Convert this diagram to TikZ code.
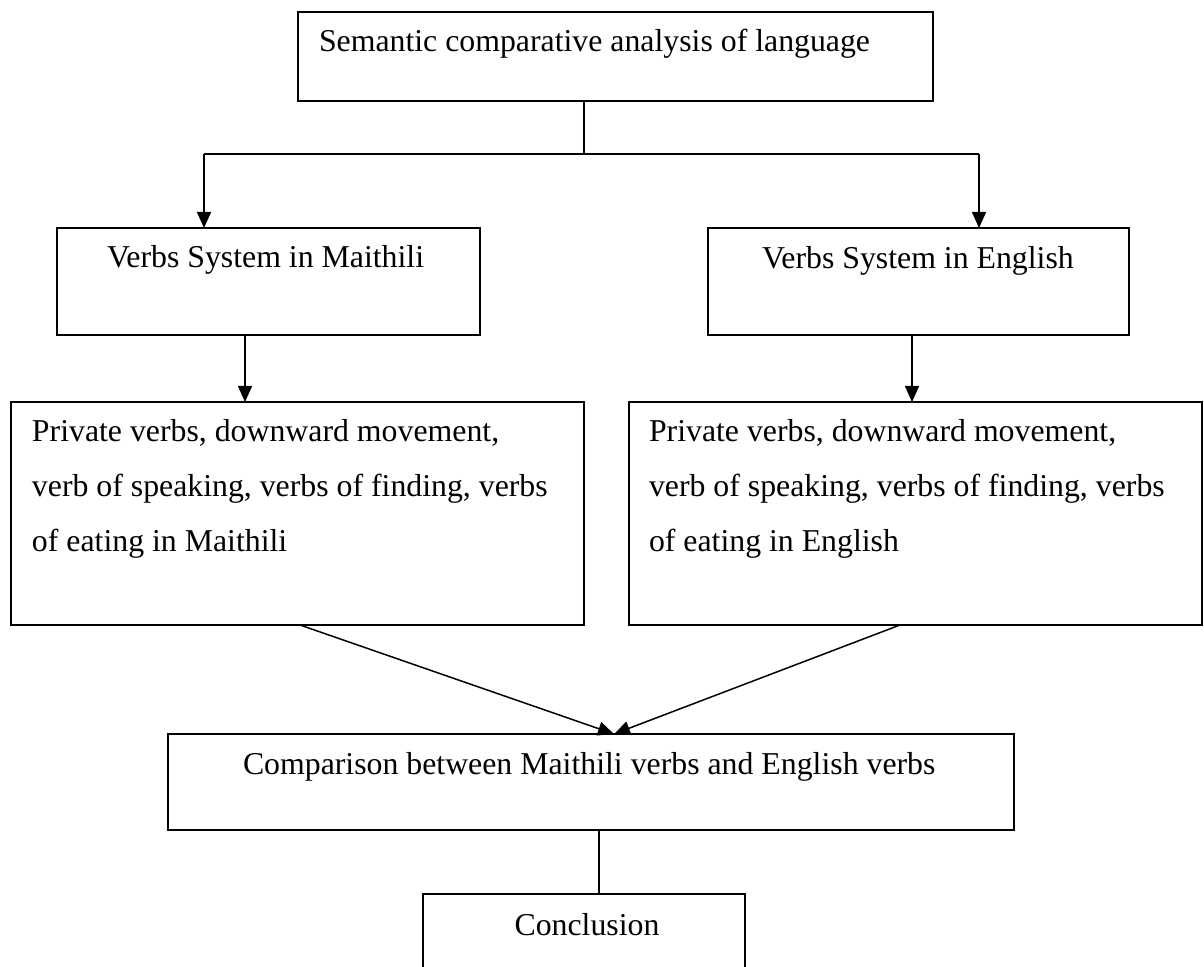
\documentclass[tikz,border=0pt]{standalone}
\usepackage{fontspec}
\setmainfont{Liberation Serif}
\usetikzlibrary{arrows.meta}
\begin{document}
\begin{tikzpicture}[x=0.5pt,y=-0.5pt,
  box/.style={draw, line width=0.75pt, inner sep=0pt, outer sep=0pt, anchor=north west},
  txt/.style={inner sep=0pt, outer sep=0pt, anchor=base west, font=\fontsize{15.9}{27.5}\selectfont},
  arr/.style={line width=0.75pt, -{Triangle[length=8pt,width=7pt]}},
  ln/.style={line width=0.75pt}]
\useasboundingbox (0,0) rectangle (1204,967);

% boxes
\node[box, minimum width=317.5pt, minimum height=44.5pt] (top) at (298,12) {};
\node[box, minimum width=211.5pt, minimum height=53.5pt] (vm) at (57,228) {};
\node[box, minimum width=210.5pt, minimum height=53.5pt] (ve) at (708,228) {};
\node[box, minimum width=286.5pt, minimum height=111.5pt] (pm) at (11,402) {};
\node[box, minimum width=286.5pt, minimum height=111.5pt] (pe) at (629,402) {};
\node[box, minimum width=423pt, minimum height=48pt] (comp) at (168,734) {};
\node[inner sep=0pt, outer sep=0pt, anchor=north west, minimum width=161pt, minimum height=40pt] (concl) at (423,894) {};
\draw[ln] (concl.south west) -- (concl.north west) -- (concl.north east) -- (concl.south east);

% texts
\node[txt] (ttop) at (319,52) {Semantic comparative analysis of language};
\node[txt] (tvm) at (107,268) {Verbs System in Maithili};
\node[txt] (tve) at (762,269) {Verbs System in English};
\node[txt, text width=280pt, align=flush left] (tpm) at (32,442) {Private verbs, downward movement,\\verb of speaking, verbs of finding, verbs\\of eating in Maithili};
\node[txt, text width=280pt, align=flush left] (tpe) at (649,442) {Private verbs, downward movement,\\verb of speaking, verbs of finding, verbs\\of eating in English};
\node[txt] (tcomp) at (243,774) {Comparison between Maithili verbs and English verbs};
\node[txt, anchor=base] (tconcl) at (587,935) {Conclusion};

% connectors
\coordinate (split) at (584,154);
\coordinate (jl) at (204,154);
\coordinate (jr) at (979,154);
\draw[ln] (top.south -| split) -- (split);
\draw[ln] (jl) -- (jr);
\draw[arr] (jl) -- (jl |- vm.north);
\draw[arr] (jr) -- (jr |- ve.north);
\draw[arr] ([xshift=94pt]vm.south west) -- ([xshift=94pt]vm.south west |- pm.north);
\draw[arr] ([xshift=102pt]ve.south west) -- ([xshift=102pt]ve.south west |- pe.north);
\coordinate (tip) at ([xshift=223pt]comp.north west);
\draw[arr] ([xshift=144.5pt]pm.south west) -- (tip);
\draw[arr] ([xshift=135.5pt]pe.south west) -- (tip);
\draw[ln] ([xshift=215.5pt]comp.south west) -- ([xshift=215.5pt]comp.south west |- concl.north);
\end{tikzpicture}
\end{document}
